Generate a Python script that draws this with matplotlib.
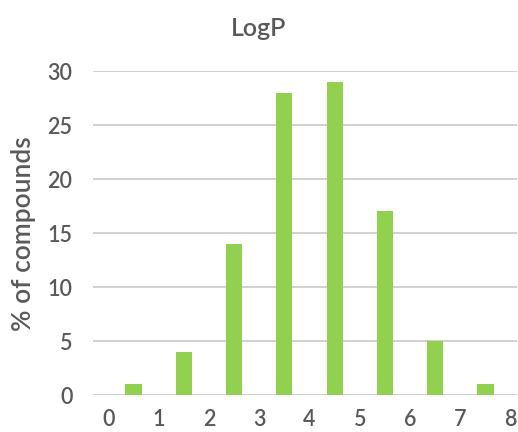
import numpy as np
import matplotlib
matplotlib.use('Agg')
import matplotlib.pyplot as plt

plt.rcParams['font.family'] = ['Lato', 'DejaVu Sans']
plt.rcParams['font.weight'] = 'semibold'

# LogP bins (0-1, 1-2, ... 7-8) and share of compounds in each
bin_centers = [0.5, 1.5, 2.5, 3.5, 4.5, 5.5, 6.5, 7.5]
percent = [1, 4, 14, 28, 29, 17, 5, 1]
x_ticks = [0, 1, 2, 3, 4, 5, 6, 7, 8]
y_ticks = [0, 5, 10, 15, 20, 25, 30]

text_col = '#595959'

fig = plt.figure(figsize=(5.18, 4.32), dpi=100)
ax = fig.add_axes([0.18, 0.0856, 0.8185, 0.75])

ax.bar(bin_centers, percent, width=0.32, color='#92D050', zorder=3)

ax.set_xlim(-0.3, 8.13)
ax.set_ylim(0, 30)
ax.set_xticks(x_ticks)
ax.set_yticks(y_ticks)
ax.grid(axis='y', color='#D0D0D0', linewidth=1.4, zorder=0)
ax.tick_params(length=0, labelsize=15.5, labelcolor=text_col)
ax.tick_params(axis='x', pad=10)
ax.tick_params(axis='y', pad=15)
for s in ax.spines.values():
    s.set_visible(False)

fig.text(0.5, 0.935, 'LogP', ha='center', va='center', fontsize=18, color=text_col)
fig.text(0.046, 0.46, '% of compounds', ha='center', va='center', rotation=90,
         fontsize=19, color=text_col)

fig.savefig('out.png', dpi=100)
